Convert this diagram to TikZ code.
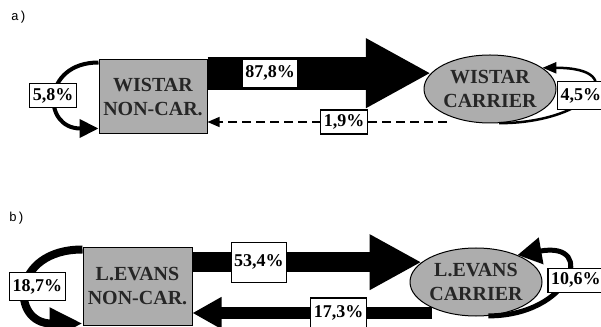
\documentclass[tikz,border=0pt]{standalone}
\usepackage{fontspec}
\setmainfont{Liberation Serif}
\setmonofont{Liberation Mono}
\usetikzlibrary{arrows.meta}
\usetikzlibrary{shapes.geometric}

\tikzset{
  state/.style={draw, line width=1pt, fill=black!32, align=center, inner sep=0pt,
    font=\bfseries\fontsize{20}{24}\selectfont, text=black!85},
  noncar/.style={state, rectangle, minimum width=108pt, minimum height=74pt},
  carrier/.style={state, ellipse, minimum width=110pt, minimum height=68pt},
  rate/.style={draw, solid, line width=1.2pt, fill=white, inner xsep=3pt, inner ysep=2pt,
    minimum height=24pt, font=\bfseries\fontsize{18}{20}\selectfont},
  panel/.style={font=\ttfamily\fontsize{13}{15}\selectfont},
}

\begin{document}
\begin{tikzpicture}[x=1pt,y=1pt]
\useasboundingbox (0,0) rectangle (601,326);

% a) wistar
\node[panel] (pa) at (19,309) {a)};
\node[noncar] (wnc) at (153,229) {WISTAR\\NON-CAR.};
\node[carrier] (wc) at (490,237) {WISTAR\\CARRIER};

\draw[line width=33pt, -{Triangle[length=65pt,width=65pt]}] (wnc.east |- wc.165) -- node[rate, pos=0.28, minimum height=28pt] {87,8\%} (wc.165);

\coordinate (dfrom) at (447,204);
\draw[line width=1.3pt, dash pattern=on 9pt off 5pt, -{Triangle[length=12pt,width=10pt]}] (dfrom) -- node[rate, pos=0.43] {1,9\%} (dfrom -| wnc.east);

\draw[line width=4pt, -{Triangle[length=19pt,width=18pt]}] ([yshift=-3pt]wnc.north west) to [out=180,in=180,looseness=2.2] node[rate, xshift=-3pt] {5,8\%} ([yshift=6pt]wnc.south west);
\draw[line width=2.5pt, -{Triangle[length=14pt,width=11pt]}] (wc.-75) to [out=0,in=0,looseness=3.3] node[rate, xshift=-8pt, minimum height=28pt] {4,5\%} (wc.22);

% b) long evans
\node[panel] (pb) at (17,108) {b)};
\node[noncar, minimum width=109pt, minimum height=77pt] (lnc) at (137.5,39.5) {L.EVANS\\NON-CAR.};
\node[carrier, minimum width=108pt] (lc) at (476,44) {L.EVANS\\CARRIER};

\draw[line width=20pt, -{Triangle[length=52pt,width=52pt]}] (lnc.east |- lc.160) -- node[rate, pos=0.29, minimum height=40pt] {53,4\%} (lc.160);

\coordinate (bfrom) at (432,13);
\draw[line width=12pt, -{Triangle[length=29pt,width=30pt]}] (bfrom) -- node[rate, pos=0.39, minimum height=30pt] {17,3\%} (bfrom -| lnc.east);

\draw[line width=8pt, -{Triangle[length=33pt,width=30pt]}] ([yshift=-2pt]lnc.north west) to [out=180,in=180,looseness=2.5] node[rate, xshift=9pt, minimum height=28pt] {18,7\%} ([yshift=2pt]lnc.south west);
\draw[line width=5pt, -{Triangle[length=24pt,width=26pt]}] (lc.-70) to [out=0,in=10,looseness=3.1] node[rate, xshift=12pt] {10,6\%} (lc.33);

\end{tikzpicture}
\end{document}
